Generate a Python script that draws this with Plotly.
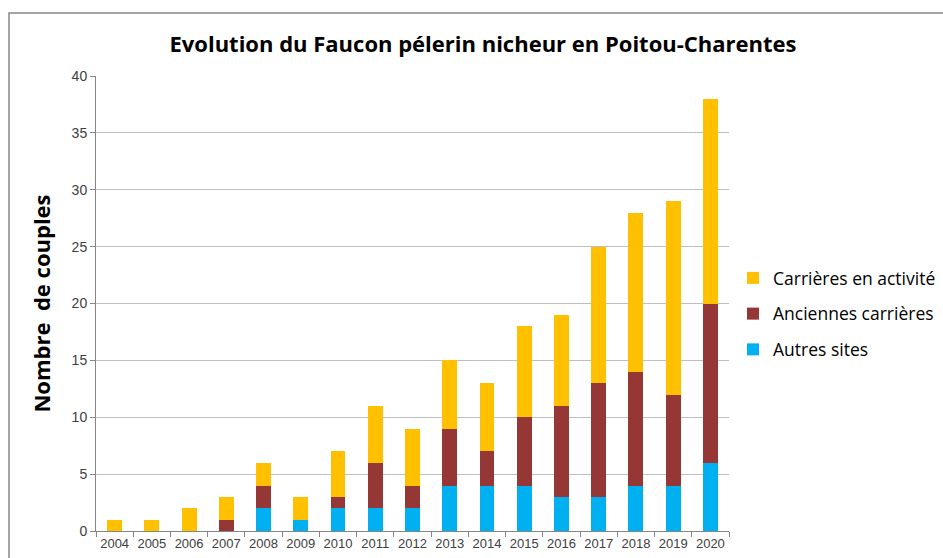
import plotly.graph_objects as go

years = ["2004", "2005", "2006", "2007", "2008", "2009", "2010", "2011", "2012",
         "2013", "2014", "2015", "2016", "2017", "2018", "2019", "2020"]
autres_sites = [0, 0, 0, 0, 2, 1, 2, 2, 2, 4, 4, 4, 3, 3, 4, 4, 6]
anciennes_carrieres = [0, 0, 0, 1, 2, 0, 1, 4, 2, 5, 3, 6, 8, 10, 10, 8, 14]
carrieres_activite = [1, 1, 2, 2, 2, 2, 4, 5, 5, 6, 6, 8, 8, 12, 14, 17, 18]

font_family = "Open Sans, Noto Sans, sans-serif"
narrow_family = "Liberation Sans Narrow, Liberation Sans, sans-serif"

fig = go.Figure()
fig.add_trace(go.Bar(x=years, y=autres_sites, name="Autres sites",
                     legendgroup="g3", legendrank=3,
                     marker=dict(color="#00B0F0", line=dict(width=0))))
fig.add_trace(go.Bar(x=years, y=anciennes_carrieres, name="Anciennes carrières",
                     legendgroup="g2", legendrank=2,
                     marker=dict(color="#953735", line=dict(width=0))))
fig.add_trace(go.Bar(x=years, y=carrieres_activite, name="Carrières en activité",
                     legendgroup="g1", legendrank=1,
                     marker=dict(color="#FFC000", line=dict(width=0))))

W, H = 943, 558
L, R, T, B = 96, 214, 76, 27
pw = W - L - R
ph = H - T - B

def px_x(x):
    return (x - L) / pw

def px_y(y):
    return (H - B - y) / ph

fig.update_layout(
    width=W, height=H,
    barmode="stack",
    bargap=0.6,
    plot_bgcolor="white",
    paper_bgcolor="white",
    margin=dict(l=L, r=R, t=T, b=B, autoexpand=False),
    font=dict(family=font_family, color="#404040"),
    title=dict(text="<b>Evolution du Faucon pélerin nicheur en Poitou-Charentes</b>",
               x=px_x(483), xref="paper", xanchor="center",
               y=1 - 44 / H, yref="container", yanchor="middle",
               font=dict(size=22, color="#000000", family=font_family)),
    xaxis=dict(type="category", showgrid=False, showline=True, linecolor="#868686",
               linewidth=1, ticks="outside", tickson="boundaries", ticklen=5,
               tickcolor="#868686", tickangle=0, automargin=False,
               tickfont=dict(size=13, color="#404040", family=narrow_family),
               fixedrange=True),
    yaxis=dict(range=[0, 40], dtick=5, showgrid=True, gridcolor="#BFBFBF",
               gridwidth=1, showline=True, linecolor="#868686", ticks="outside",
               ticklen=5, tickcolor="#868686", zeroline=False, automargin=False,
               tickfont=dict(size=14, color="#404040", family=narrow_family),
               title=dict(text="<b>Nombre  de couples</b>",
                          font=dict(size=22, color="#000000"), standoff=14)),
    legend=dict(x=px_x(733), xanchor="left", y=px_y(260), yanchor="top",
                traceorder="grouped", font=dict(size=17.5, color="#000000"),
                bgcolor="rgba(0,0,0,0)", itemsizing="constant", tracegroupgap=10),
    showlegend=True,
    bargroupgap=0,
)

# chart outer border
fig.add_shape(type="rect", xref="paper", yref="paper",
              x0=px_x(9), x1=px_x(960), y0=px_y(575), y1=px_y(13),
              line=dict(color="#868686", width=1.5), fillcolor="rgba(0,0,0,0)",
              layer="below")

fig.write_html("out.html",
               config={"displayModeBar": False},
               post_script="document.body.style.margin='0';document.body.style.overflow='hidden';")
